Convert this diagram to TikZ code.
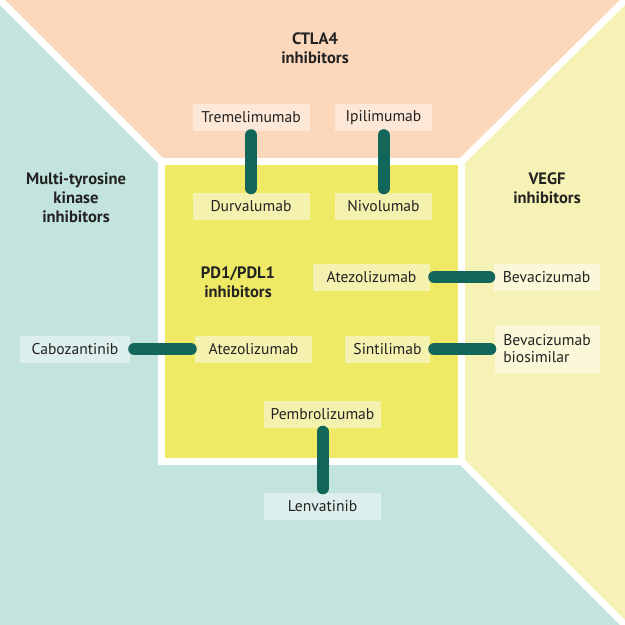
\documentclass[tikz,border=0pt]{standalone}
\usepackage{fontspec}
\setmainfont{PT Sans}
\definecolor{peach}{HTML}{FBD7BC}
\definecolor{peachbox}{HTML}{FDE8D7}
\definecolor{tealbg}{HTML}{C3E3DD}
\definecolor{tealbox}{HTML}{DDEFEC}
\definecolor{lyel}{HTML}{F6F2B5}
\definecolor{lyelbox}{HTML}{FAF8D8}
\definecolor{cyel}{HTML}{EEEA66}
\definecolor{cyelbox}{HTML}{F5F2B0}
\definecolor{conn}{HTML}{13665A}
\definecolor{txt}{HTML}{222222}
\tikzset{
  lbl/.style={inner sep=0pt, minimum height=27pt, text=txt, font=\fontsize{15.6}{17}\selectfont, align=center},
  head/.style={inner sep=0pt, text=txt, font=\bfseries\fontsize{16.5}{19}\selectfont, align=center},
  link/.style={draw=conn, line width=12pt, line cap=round, shorten <=4pt, shorten >=4pt},
}
\begin{document}
\begin{tikzpicture}[x=1pt,y=-1pt]
\useasboundingbox (0,0) rectangle (625,625);
% background regions
\fill[tealbg] (0,0) rectangle (625,625);
\fill[peach] (0,0) -- (625,0) -- (461.5,161.5) -- (161.5,161.5) -- cycle;
\fill[lyel] (625,0) -- (625,625) -- (461.5,461.5) -- (461.5,161.5) -- cycle;
% white separators
\draw[white, line width=7pt] (0,0) -- (161.5,161.5);
\draw[white, line width=7pt] (625,0) -- (461.5,161.5);
\draw[white, line width=7pt] (625,625) -- (461.5,461.5);
\fill[white] (158,158) rectangle (465,465);
\fill[cyel] (165,165) rectangle (458,458);
% headings
\node[head] (ctla) at (315,48) {CTLA4\\inhibitors};
\node[head] (mtk) at (76,198) {Multi-tyrosine\\kinase\\inhibitors};
\node[head] (vegf) at (547,188) {VEGF\\inhibitors};
\node[head] (pd) at (238,282) {PD1/PDL1\\inhibitors};
% labels
\node[lbl, fill=peachbox, minimum width=117pt] (treme) at (251,117.5) {Tremelimumab};
\node[lbl, fill=peachbox, minimum width=97pt] (ipi) at (383.5,117.5) {Ipilimumab};
\node[lbl, fill=cyelbox, minimum width=117pt] (durva) at (251,206) {Durvalumab};
\node[lbl, fill=cyelbox, minimum width=97pt] (nivo) at (383.5,206) {Nivolumab};
\node[lbl, fill=cyelbox, minimum width=117pt] (atez1) at (371.5,277) {Atezolizumab};
\node[lbl, fill=lyelbox, minimum width=106pt] (beva) at (546.5,277) {Bevacizumab};
\node[lbl, fill=tealbox, minimum width=110pt] (cabo) at (75,349) {Cabozantinib};
\node[lbl, fill=cyelbox, minimum width=117pt] (atez2) at (253.5,349) {Atezolizumab};
\node[lbl, fill=cyelbox, minimum width=85pt] (sinti) at (387.5,349) {Sintilimab};
\node[lbl, fill=lyelbox, minimum width=105pt, minimum height=48pt, align=left, font=\fontsize{15.6}{17}\selectfont] (bevab) at (547,349) {Bevacizumab\\biosimilar};
\node[lbl, fill=cyelbox, minimum width=117pt] (pembro) at (322.5,414) {Pembrolizumab};
\node[lbl, fill=tealbox, minimum width=117pt] (lenva) at (322.5,506) {Lenvatinib};
% connectors
\draw[link] (treme.south) -- (durva.north);
\draw[link] (ipi.south) -- (nivo.north);
\draw[link] (atez1.east) -- (beva.west);
\draw[link] (cabo.east) -- (atez2.west);
\draw[link] (sinti.east) -- (sinti.east -| bevab.west);
\draw[link] (pembro.south) -- (lenva.north);
\end{tikzpicture}
\end{document}
